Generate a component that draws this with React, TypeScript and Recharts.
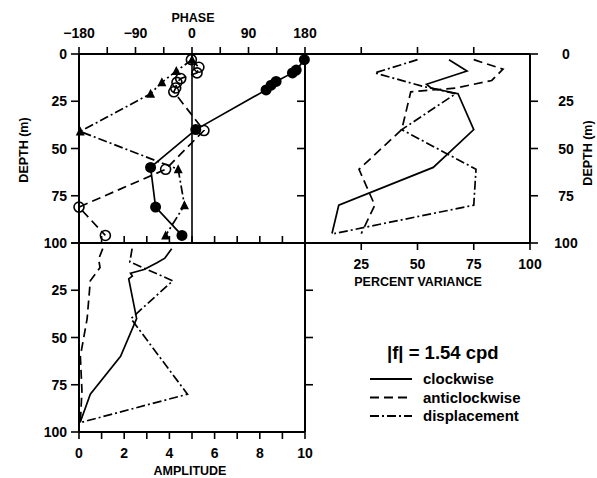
import React from 'react';
import { ScatterChart, Scatter, XAxis, YAxis, ReferenceLine } from 'recharts';

// ---------- PHASE panel (degrees vs depth m) ----------
const phaseCwDepth = [3, 8.5, 10, 14.5, 16.5, 19, 40, 60, 81, 96];
const phaseCwValue = [179, 166, 160, 134, 126, 118, 6, -66, -58, -16];
const phaseAcwDepth = [3, 7, 10, 13, 15, 18, 20, 40.5, 61, 81, 96];
const phaseAcwValue = [-1, 11, 8, -18, -24, -26, -29, 19, -42, -180, -138];
const phaseDispDepth = [3, 9, 15, 21, 41, 61, 80, 96];
const phaseDispValue = [0, -25, -48, -66, -178, -22, -12, -42];

// ---------- PERCENT VARIANCE panel ----------
const varCwDepth = [3, 9, 16, 18, 21, 40, 60, 80, 95];
const varCwValue = [64, 72, 54, 56, 68, 75, 57, 15, 12];
const varAcwDepth = [3, 8, 14, 18, 20, 40, 61, 80, 95];
const varAcwValue = [75, 88, 83, 67, 47, 43, 24, 31, 25];
const varDispDepth = [3, 10, 17, 21, 40, 61, 80, 95];
const varDispValue = [50, 31, 52, 67, 43, 76, 75, 13];

// ---------- AMPLITUDE panel ----------
const ampCwDepth = [3, 8, 10.5, 14, 16, 17.5, 19, 40, 60, 80, 95];
const ampCwValue = [4.1, 3.8, 3.45, 2.88, 2.28, 2.36, 2.2, 2.55, 1.84, 0.5, 0.05];
const ampAcwDepth = [3, 8.5, 13, 20, 40, 60, 78, 95];
const ampAcwValue = [1.05, 0.87, 0.93, 0.5, 0.36, 0.06, 0.13, 0.06];
const ampDispDepth = [3, 10, 20, 40, 80, 95];
const ampDispValue = [2.35, 2.25, 4.15, 2.3, 4.8, 0.06];

// ---------- tick lists ----------
const phaseTicks = [-180, -135, -90, -45, 0, 45, 90, 135, 180];
const depthTicks = [0, 25, 50, 75, 100];
const varTicks = [0, 25, 50, 75, 100];
const ampTicks = [0, 1, 2, 3, 4, 5, 6, 7, 8, 9, 10];

const zip = (d: number[], v: number[]) => d.map((dd, i) => ({ d: dd, v: v[i] }));

const FONT = '"Liberation Sans", Arial, sans-serif';
const BLACK = '#000';
const DASH = '9 5';
const DASHDOT = '9 3 2 3';
const LW = 1.7;

const axisLine = { stroke: BLACK, strokeWidth: 2 };
const tickLine = { stroke: BLACK, strokeWidth: 1.6 };

const mkTick =
  (opts: { anchor: 'start' | 'middle' | 'end'; dx?: number; dy?: number; show?: (v: number) => boolean; fmt?: (v: number) => string }) =>
  (props: any) => {
    const v = props.payload.value;
    if (opts.show && !opts.show(v)) return <g />;
    const txt = opts.fmt ? opts.fmt(v) : String(v);
    return (
      <text
        x={props.x + (opts.dx || 0)}
        y={props.y + (opts.dy || 0)}
        textAnchor={opts.anchor}
        fontFamily={FONT}
        fontSize={14}
        fontWeight="bold"
        fill={BLACK}
      >
        {txt}
      </text>
    );
  };

const noTick = () => <g />;

const FilledDot = (p: any) => <circle cx={p.cx} cy={p.cy} r={5.5} fill={BLACK} />;
const OpenDot = (p: any) => <circle cx={p.cx} cy={p.cy} r={5} fill="none" stroke={BLACK} strokeWidth={1.6} />;
const Tri = (p: any) => (
  <polygon points={`${p.cx},${p.cy - 5} ${p.cx - 4.5},${p.cy + 4} ${p.cx + 4.5},${p.cy + 4}`} fill={BLACK} />
);
const NoDot = () => <g />;

const abs: React.CSSProperties = { position: 'absolute', left: 0, top: 0 };

function PhaseChart() {
  return (
    <div style={abs}>
      <ScatterChart width={597} height={478} margin={{ top: 24, left: 39, right: 292, bottom: 235 }}>
        <XAxis
          xAxisId="t"
          orientation="top"
          type="number"
          dataKey="v"
          domain={[-180, 180]}
          ticks={phaseTicks}
          interval={0}
          height={30}
          tickSize={7}
          tickMargin={8}
          axisLine={axisLine}
          tickLine={tickLine}
          tick={mkTick({
            anchor: 'middle',
            dy: -1,
            show: (v) => v % 90 === 0,
            fmt: (v) => (v < 0 ? '\u2212' + Math.abs(v) : String(v)),
          })}
        />
        <YAxis
          yAxisId="l"
          type="number"
          dataKey="d"
          domain={[0, 100]}
          reversed
          ticks={depthTicks}
          interval={0}
          width={40}
          tickSize={8}
          tickMargin={4}
          axisLine={axisLine}
          tickLine={tickLine}
          tick={mkTick({ anchor: 'end', dy: 5 })}
        />
        <ReferenceLine xAxisId="t" yAxisId="l" x={0} stroke={BLACK} strokeWidth={1.6} />
        <Scatter
          xAxisId="t"
          yAxisId="l"
          data={zip(phaseDispDepth, phaseDispValue)}
          fill={BLACK}
          shape={Tri}
          line={{ stroke: BLACK, strokeWidth: LW, strokeDasharray: DASHDOT }}
          isAnimationActive={false}
        />
        <Scatter
          xAxisId="t"
          yAxisId="l"
          data={zip(phaseAcwDepth, phaseAcwValue)}
          fill={BLACK}
          shape={OpenDot}
          line={{ stroke: BLACK, strokeWidth: LW, strokeDasharray: DASH }}
          isAnimationActive={false}
        />
        <Scatter
          xAxisId="t"
          yAxisId="l"
          data={zip(phaseCwDepth, phaseCwValue)}
          fill={BLACK}
          shape={FilledDot}
          line={{ stroke: BLACK, strokeWidth: LW }}
          isAnimationActive={false}
        />
      </ScatterChart>
    </div>
  );
}

function VarianceChart() {
  return (
    <div style={abs}>
      <ScatterChart width={597} height={478} margin={{ top: 34, left: 285, right: 17, bottom: 205 }}>
        <XAxis
          xAxisId="b"
          orientation="bottom"
          type="number"
          dataKey="v"
          domain={[0, 100]}
          ticks={varTicks}
          interval={0}
          height={30}
          tickSize={7}
          tickMargin={8}
          axisLine={axisLine}
          tickLine={tickLine}
          tick={mkTick({ anchor: 'middle', dy: 11, show: (v) => v !== 0 })}
        />
        <XAxis
          xAxisId="t"
          orientation="top"
          type="number"
          dataKey="v"
          domain={[0, 100]}
          ticks={[25, 50, 75]}
          interval={0}
          height={20}
          tickSize={7}
          axisLine={axisLine}
          tickLine={tickLine}
          tick={noTick}
        />
        <YAxis
          yAxisId="l"
          orientation="left"
          type="number"
          dataKey="d"
          domain={[0, 100]}
          reversed
          ticks={[25, 50, 75]}
          interval={0}
          width={20}
          tickSize={8}
          axisLine={axisLine}
          tickLine={tickLine}
          tick={noTick}
        />
        <YAxis
          yAxisId="r"
          orientation="right"
          type="number"
          dataKey="d"
          domain={[0, 100]}
          reversed
          ticks={depthTicks}
          interval={0}
          width={50}
          tickSize={8}
          tickMargin={28}
          axisLine={axisLine}
          tickLine={tickLine}
          tick={mkTick({ anchor: 'middle', dy: 5 })}
        />
        <Scatter
          xAxisId="b"
          yAxisId="r"
          data={zip(varDispDepth, varDispValue)}
          fill={BLACK}
          shape={NoDot}
          line={{ stroke: BLACK, strokeWidth: LW, strokeDasharray: DASHDOT }}
          isAnimationActive={false}
        />
        <Scatter
          xAxisId="t"
          yAxisId="r"
          data={zip(varAcwDepth, varAcwValue)}
          fill={BLACK}
          shape={NoDot}
          line={{ stroke: BLACK, strokeWidth: LW, strokeDasharray: DASH }}
          isAnimationActive={false}
        />
        <Scatter
          xAxisId="b"
          yAxisId="l"
          data={zip(varCwDepth, varCwValue)}
          fill={BLACK}
          shape={NoDot}
          line={{ stroke: BLACK, strokeWidth: LW }}
          isAnimationActive={false}
        />
      </ScatterChart>
    </div>
  );
}

function AmplitudeChart() {
  return (
    <div style={abs}>
      <ScatterChart width={597} height={478} margin={{ top: 223, left: 39, right: 272, bottom: 16 }}>
        <XAxis
          xAxisId="b"
          orientation="bottom"
          type="number"
          dataKey="v"
          domain={[0, 10]}
          ticks={ampTicks}
          interval={0}
          height={30}
          tickSize={7}
          tickMargin={8}
          axisLine={axisLine}
          tickLine={tickLine}
          tick={mkTick({ anchor: 'middle', dy: 11, show: (v) => v % 2 === 0 })}
        />
        <XAxis
          xAxisId="t"
          orientation="top"
          type="number"
          dataKey="v"
          domain={[0, 10]}
          ticks={ampTicks}
          interval={0}
          height={20}
          tickSize={7}
          axisLine={axisLine}
          tickLine={tickLine}
          tick={noTick}
        />
        <YAxis
          yAxisId="l"
          orientation="left"
          type="number"
          dataKey="d"
          domain={[0, 100]}
          reversed
          ticks={depthTicks}
          interval={0}
          width={40}
          tickSize={8}
          tickMargin={4}
          axisLine={axisLine}
          tickLine={tickLine}
          tick={mkTick({ anchor: 'end', dy: 5, show: (v) => v !== 0 })}
        />
        <YAxis
          yAxisId="r"
          orientation="right"
          type="number"
          dataKey="d"
          domain={[0, 100]}
          reversed
          ticks={[25, 50, 75]}
          interval={0}
          width={20}
          tickSize={8}
          axisLine={axisLine}
          tickLine={tickLine}
          tick={noTick}
        />
        <Scatter
          xAxisId="t"
          yAxisId="l"
          data={zip(ampDispDepth, ampDispValue)}
          fill={BLACK}
          shape={NoDot}
          line={{ stroke: BLACK, strokeWidth: LW, strokeDasharray: DASHDOT }}
          isAnimationActive={false}
        />
        <Scatter
          xAxisId="t"
          yAxisId="r"
          data={zip(ampAcwDepth, ampAcwValue)}
          fill={BLACK}
          shape={NoDot}
          line={{ stroke: BLACK, strokeWidth: LW, strokeDasharray: DASH }}
          isAnimationActive={false}
        />
        <Scatter
          xAxisId="b"
          yAxisId="l"
          data={zip(ampCwDepth, ampCwValue)}
          fill={BLACK}
          shape={NoDot}
          line={{ stroke: BLACK, strokeWidth: LW }}
          isAnimationActive={false}
        />
      </ScatterChart>
    </div>
  );
}

const legendItems = [
  { label: 'clockwise', dash: undefined as string | undefined },
  { label: 'anticlockwise', dash: DASH },
  { label: 'displacement', dash: DASHDOT },
];

function Overlay() {
  const title = { fontFamily: FONT, fontSize: 12.5, fontWeight: 'bold' as const, fill: BLACK };
  return (
    <svg width={597} height={478} style={{ ...abs, pointerEvents: 'none' }}>
      <text x={193} y={22} textAnchor="middle" {...title}>PHASE</text>
      <text x={24} y={150} textAnchor="middle" dominantBaseline="central" transform="rotate(-90 24 150)" {...title}>
        DEPTH (m)
      </text>
      <text x={588} y={153} textAnchor="middle" dominantBaseline="central" transform="rotate(-90 588 153)" {...title}>
        DEPTH (m)
      </text>
      <text x={418} y={286} textAnchor="middle" {...title}>PERCENT VARIANCE</text>
      <text x={190} y={475} textAnchor="middle" {...title}>AMPLITUDE</text>
      <text x={387} y={359} fontFamily={FONT} fontSize={18.5} fontWeight="bold" fill={BLACK}>
        |f| = 1.54 cpd
      </text>
      {legendItems.map((it, i) => {
        const y = 379 + i * 18.5;
        return (
          <g key={it.label}>
            <line x1={370} x2={412} y1={y} y2={y} stroke={BLACK} strokeWidth={2} strokeDasharray={it.dash} />
            <text x={423} y={y + 5} fontFamily={FONT} fontSize={15} fontWeight="bold" fill={BLACK}>
              {it.label}
            </text>
          </g>
        );
      })}
    </svg>
  );
}

export default function App() {
  return (
    <div style={{ position: 'absolute', left: 0, top: 0, width: 597, height: 478, background: '#fff' }}>
      <PhaseChart />
      <VarianceChart />
      <AmplitudeChart />
      <Overlay />
    </div>
  );
}
